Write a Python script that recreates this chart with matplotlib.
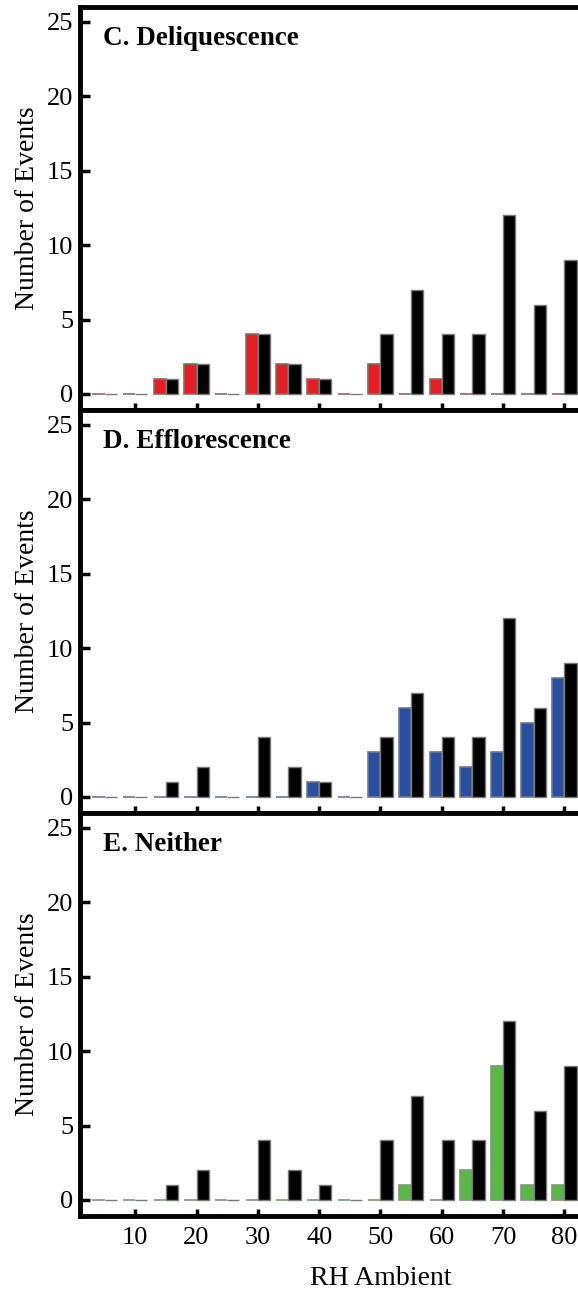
import matplotlib
matplotlib.use('Agg')
import matplotlib.pyplot as plt

# RH bins (centre of each pair of bars)
rh = [5, 10, 15, 20, 25, 30, 35, 40, 45, 50, 55, 60, 65, 70, 75, 80]

# total events in each RH bin (black bars, same in all panels)
total = [0, 0, 1, 2, 0, 4, 2, 1, 0, 4, 7, 4, 4, 12, 6, 9]

# events of each type
deliquescence = [0, 0, 1, 2, 0, 4, 2, 1, 0, 2, 0, 1, 0, 0, 0, 0]
efflorescence = [0, 0, 0, 0, 0, 0, 0, 1, 0, 3, 6, 3, 2, 3, 5, 8]
neither = [0, 0, 0, 0, 0, 0, 0, 0, 0, 0, 1, 0, 2, 9, 1, 1]

panel_titles = ['C. Deliquescence', 'D. Efflorescence', 'E. Neither']
panel_colors = ['#e51e26', '#2a4f9e', '#5ab946']
edge_colors = ['#8a6a60', '#6d7890', '#7f9a78']
yticks = [0, 5, 10, 15, 20, 25]
xticks = [10, 20, 30, 40, 50, 60, 70, 80]

plt.rcParams['font.family'] = ['Liberation Serif', 'DejaVu Serif']

W, H = 578, 1289
fig = plt.figure(figsize=(W / 100, H / 100), dpi=100)

# the right side of the plot runs off the figure, as in the original
left_px, right_px = 80, 638
tops = [7, 410, 813]
height_px = 403

series = [deliquescence, efflorescence, neither]
axes = []
for i in range(3):
    top = tops[i]
    ax = fig.add_axes([left_px / W, 1 - (top + height_px) / H,
                       (right_px - left_px) / W, height_px / H])
    axes.append(ax)

    # coloured bar left of the bin centre, black total right of it
    ax.bar([x - 1 for x in rh], series[i], width=2, color=panel_colors[i],
           edgecolor=edge_colors[i], linewidth=1.2, zorder=2)
    ax.bar([x + 1 for x in rh], total, width=2, color='black',
           edgecolor='#7a7a7a', linewidth=1.0, zorder=2)

    ax.set_xlim(1, 92)
    ax.set_ylim(-1.08, 26.0)
    ax.set_yticks(yticks)
    ax.set_xticks(xticks)

    for s in ax.spines.values():
        s.set_linewidth(3.5)
    ax.tick_params(axis='y', direction='in', length=7.5, width=2.5,
                   labelsize=19, pad=5, right=False)
    ax.tick_params(axis='x', direction='in', length=5, width=2.5,
                   labelsize=19, pad=8, top=False)
    if i < 2:
        ax.tick_params(axis='x', labelbottom=False)

    ax.set_ylabel('Number of Events', fontsize=20, labelpad=5)
    ax.text(23 / (right_px - left_px), 0.906, panel_titles[i],
            transform=ax.transAxes, fontsize=19.5, fontweight='bold',
            va='baseline', ha='left')

axes[2].set_xlabel('RH Ambient', fontsize=20)
# centre the x label on the visible 50 tick
axes[2].xaxis.set_label_coords((50 - 1) / (92 - 1), -0.125)

fig.savefig('out.png', dpi=100)
